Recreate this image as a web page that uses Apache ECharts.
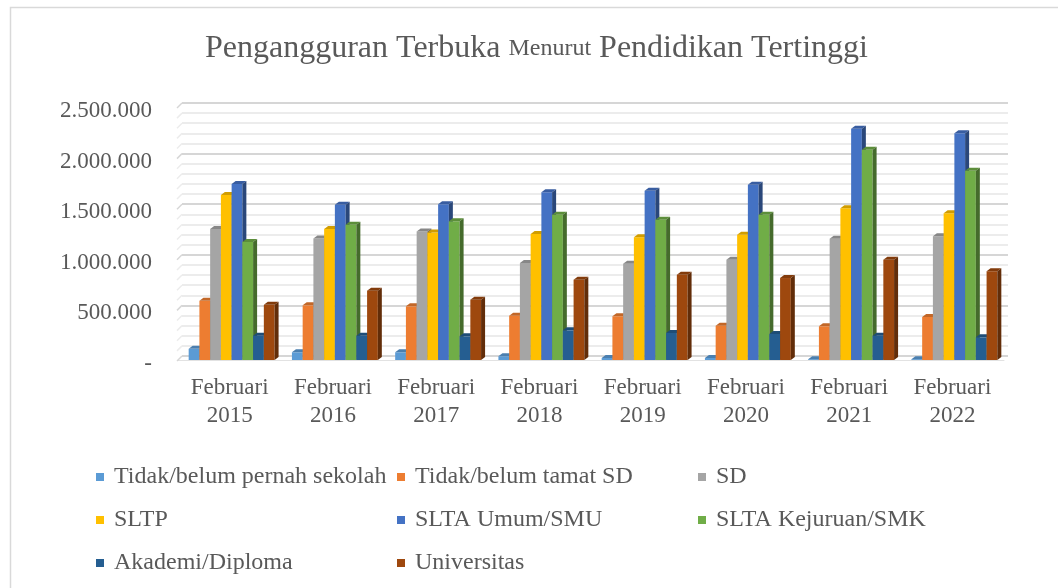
<!DOCTYPE html>
<html><head><meta charset="utf-8">
<script src="https://cdn.jsdelivr.net/npm/echarts@6/dist/echarts.min.js"></script>
<style>html,body{margin:0;padding:0;background:#fff}#c{width:1058px;height:588px}</style>
</head><body><div id="c"></div>
<script>
const categories = ['Februari\n2015','Februari\n2016','Februari\n2017','Februari\n2018','Februari\n2019','Februari\n2020','Februari\n2021','Februari\n2022'];
const seriesNames = ['Tidak/belum pernah sekolah','Tidak/belum tamat SD','SD','SLTP','SLTA Umum/SMU','SLTA Kejuruan/SMK','Akademi/Diploma','Universitas'];
const seriesColors = ['#5B9BD5','#ED7D31','#A5A5A5','#FFC000','#4472C4','#70AD47','#255E91','#9E480E'];
const tidakPernahSekolah = [110000, 76000, 76000, 37000, 20000, 20000, 8000, 8000];
const tidakTamatSD = [585000, 540000, 530000, 438000, 432000, 339000, 333000, 425000];
const sd = [1295000, 1200000, 1270000, 958000, 952000, 991000, 1199000, 1222000];
const sltp = [1630000, 1295000, 1260000, 1245000, 1212000, 1238000, 1500000, 1450000];
const sltaUmum = [1740000, 1535000, 1540000, 1657000, 1673000, 1732000, 2286000, 2240000];
const sltaKejuruan = [1165000, 1337000, 1370000, 1436000, 1386000, 1436000, 2078000, 1870000];
const akademiDiploma = [240000, 240000, 234000, 293000, 267000, 257000, 240000, 224000];
const universitas = [545000, 685000, 596000, 793000, 843000, 810000, 990000, 876000];
const yMax = 2500000, yStep = 500000, yMinorStep = 100000;

const allSeries = [tidakPernahSekolah, tidakTamatSD, sd, sltp, sltaUmum, sltaKejuruan, akademiDiploma, universitas];
const FONT = '"Liberation Serif", "Times New Roman", serif';
const TXT = '#595959';

function darken(hex, f){
  const n = parseInt(hex.slice(1),16);
  const r = Math.round(((n>>16)&255)*f), g = Math.round(((n>>8)&255)*f), b = Math.round((n&255)*f);
  return 'rgb('+r+','+g+','+b+')';
}
function fmt(v){
  if (v === 0) return '-';
  return String(v).replace(/\B(?=(\d{3})+(?!\d))/g, '.');
}

const DX = 4, DY = -3;
function makeRender(si){
  const col = seriesColors[si], topCol = darken(col, 0.82), sideCol = darken(col, 0.62);
  return function(params, api){
    const ci = api.value(0), v = api.value(1);
    const base = api.coord([ci, 0]);
    const top = api.coord([ci, v]);
    const band = api.size([1, 0])[0];
    const w = band * 0.104;
    const x0 = base[0] - 4 * w + 2 + si * w;
    const yb = base[1], yt = top[1];
    return {type:'group', children:[
      {type:'rect', shape:{x:x0, y:yt, width:w, height:yb-yt}, style:{fill:col}},
      {type:'polygon', shape:{points:[[x0,yt],[x0+DX,yt+DY],[x0+w+DX,yt+DY],[x0+w,yt]]}, style:{fill:topCol}},
      {type:'polygon', shape:{points:[[x0+w,yt],[x0+w+DX,yt+DY],[x0+w+DX,yb+DY],[x0+w,yb]]}, style:{fill:sideCol}}
    ]};
  };
}

const series = seriesNames.map((name, si) => ({
  name: name,
  type: 'custom',
  xAxisIndex: 0, yAxisIndex: 0,
  itemStyle: {color: seriesColors[si]},
  renderItem: makeRender(si),
  data: allSeries[si].map((v, ci) => [ci, v]),
  z: 5
}));

// left side wall diagonals (decoration tied to the back-wall axis)
series.push({
  type: 'custom', xAxisIndex: 1, yAxisIndex: 1, silent: true, z: 1,
  data: [[0, 0]],
  renderItem: function(params, api){
    const ch = [];
    for (let v = 0; v <= yMax; v += yMinorStep){
      const p = api.coord([0, v]);
      const x = params.coordSys.x;
      const major = (v % yStep === 0);
      ch.push({type:'line', shape:{x1:x, y1:p[1], x2:x-5, y2:p[1]+5},
        style:{stroke: major ? '#d6d6d6' : '#ececec', lineWidth: 1.5}});
    }
    return {type:'group', children: ch};
  }
});

const chart = echarts.init(document.getElementById('c'), null, {renderer:'canvas'});
chart.setOption({
  backgroundColor: '#fff',
  animation: false,
  title: {
    text: '{a|Pengangguran Terbuka }{b|Menurut}{a| Pendidikan Tertinggi}',
    left: 200, top: 23,
    textStyle: {fontWeight: 'normal', rich: {
      a: {fontFamily: FONT, fontSize: 32, fontWeight: 'normal', color: TXT, lineHeight: 42},
      b: {fontFamily: FONT, fontSize: 24, fontWeight: 'normal', color: TXT, lineHeight: 42}
    }}
  },
  graphic: [{type:'rect', left: 8, top: 5, shape:{x:0, y:0, width:1100, height:620}, style:{fill:'none', stroke:'#d9d9d9', lineWidth:1.5}, z: -1}],
  legend: {
    data: seriesNames,
    left: 91, top: 452, width: 940,
    icon: 'rect', itemWidth: 8, itemHeight: 8, itemGap: 3,
    textStyle: {fontFamily: FONT, fontSize: 24, color: TXT, width: 280, lineHeight: 40, padding:[0,0,0,5]}
  },
  grid: [
    {left: 178, right: 54, top: 107, bottom: 228},
    {left: 182, right: 50, top: 103, bottom: 232},
    {left: 178, right: 54, top: 111, bottom: 224}
  ],
  xAxis: [
    {type:'category', gridIndex:0, data: categories,
     axisLine:{show:true, lineStyle:{color:'#e2e2e2', width:1}}, axisTick:{show:false},
     axisLabel:{fontFamily: FONT, fontSize: 23, color: TXT, lineHeight: 28, margin: 14}},
    {type:'category', gridIndex:1, data: categories, show:false},
    {type:'category', gridIndex:2, data: categories, show:false}
  ],
  yAxis: [
    {type:'value', gridIndex:0, min:0, max:yMax, interval:yStep,
     axisLine:{show:false}, axisTick:{show:false}, splitLine:{show:false}, axisLabel:{show:false}},
    {type:'value', gridIndex:1, min:0, max:yMax, interval:yStep,
     axisLine:{show:false}, axisTick:{show:false}, axisLabel:{show:false},
     splitLine:{show:true, lineStyle:{color:'#d6d6d6', width:2}},
     minorTick:{show:false, splitNumber:5},
     minorSplitLine:{show:true, lineStyle:{color:'#ececec', width:2}}},
    {type:'value', gridIndex:2, min:0, max:yMax, interval:yStep,
     axisLine:{show:false}, axisTick:{show:false}, splitLine:{show:false},
     axisLabel:{fontFamily: FONT, fontSize: 23, color: TXT, margin: 26, formatter: fmt}}
  ],
  series: series
});
</script>
</body></html>
